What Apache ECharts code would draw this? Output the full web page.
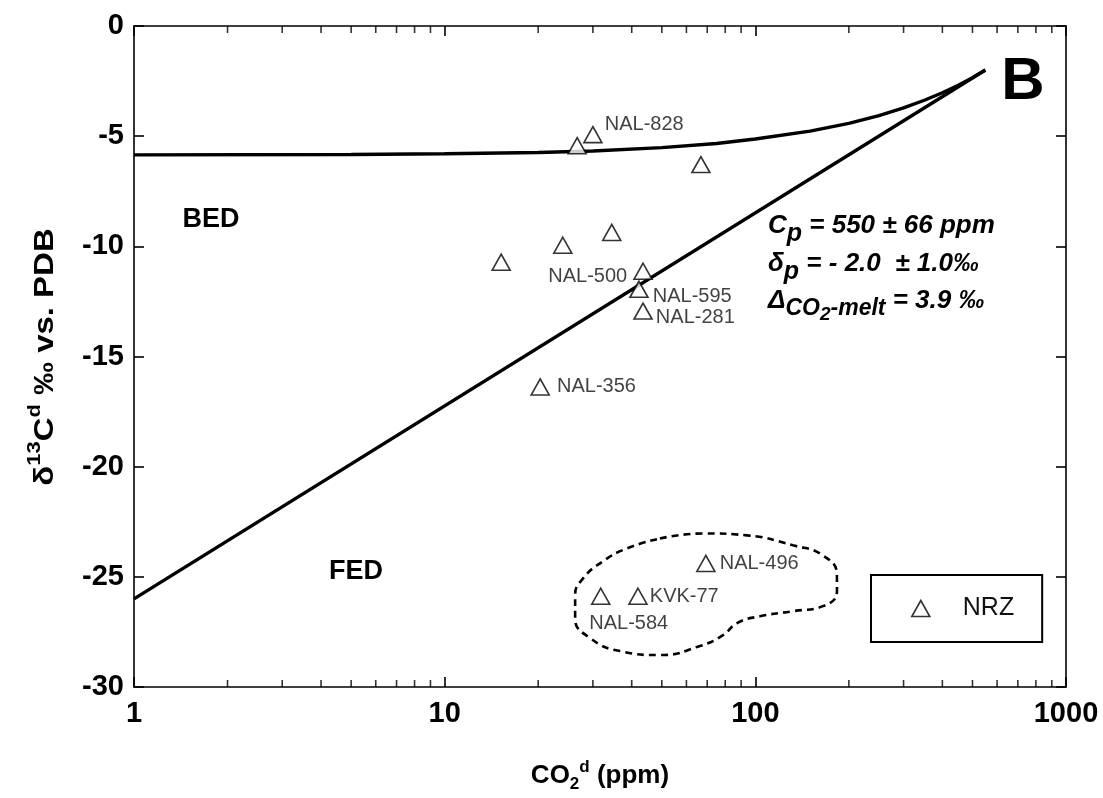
<!DOCTYPE html>
<html><head><meta charset="utf-8">
<script src="https://cdn.jsdelivr.net/npm/echarts@6/dist/echarts.min.js"></script>
<style>html,body{margin:0;padding:0;background:#fff}#c{width:1103px;height:798px}</style>
</head><body><div id="c"></div>
<script>
// ---- data ----
const xTickValues = [1, 10, 100, 1000];
const yTickValues = [0, -5, -10, -15, -20, -25, -30];
const minorX = [2,3,4,5,6,7,8,9,20,30,40,50,60,70,80,90,200,300,400,500,600,700,800,900];

const pointNames = ['', 'NAL-828', '', '', '', '', 'NAL-500', 'NAL-595', 'NAL-281', 'NAL-356', 'NAL-496', 'KVK-77', 'NAL-584'];
const pointCO2   = [26.7, 30.0, 66.8, 15.2, 24.0, 34.5, 43.5, 42.2, 43.5, 20.3, 69.3, 41.9, 31.8];
const pointDelta = [-5.43, -4.93, -6.29, -10.72, -9.95, -9.37, -11.13, -11.95, -12.94, -16.38, -24.39, -25.88, -25.88];

const batchCO2   = [1, 5, 10, 20, 30, 50, 75, 100, 150, 200, 250, 300, 350, 400, 450, 500, 550];
const batchDelta = [-5.85, -5.83, -5.8, -5.74, -5.67, -5.52, -5.33, -5.13, -4.77, -4.42, -4.07, -3.72, -3.37, -3.03, -2.69, -2.35, -2.0];

const rayleighCO2   = [1, 550];
const rayleighDelta = [-26.0, -2.0];

const blobCO2   = [49.3, 67.8, 94.0, 132.1, 165.1, 183.1, 183.1, 165.1, 132.1, 103.5, 87.3, 78.7, 66.3, 49.3, 36.7, 29.4, 26.3, 26.3, 27.9, 32.3, 38.6, 49.3];
const blobDelta = [-23.26, -23.03, -23.12, -23.57, -24.03, -24.93, -25.66, -26.33, -26.56, -26.79, -27.10, -27.65, -28.14, -28.55, -28.37, -27.78, -26.88, -25.84, -25.07, -24.30, -23.71, -23.26];

// ---- styling ----
const FONT = '"Liberation Sans", Arial, Helvetica, sans-serif';
const labelPlacement = {
  'NAL-828': { position: 'right', offset: [-3, -10] },
  'NAL-500': { position: 'left', offset: [-1, 5] },
  'NAL-595': { position: 'right', offset: [-1, 7] },
  'NAL-281': { position: 'right', offset: [-2, 6] },
  'NAL-356': { position: 'right', offset: [2, 0] },
  'NAL-496': { position: 'right', offset: [-1, 0] },
  'KVK-77':  { position: 'right', offset: [-3, 0] },
  'NAL-584': { position: 'bottom', offset: [28, 4] }
};

const zip = (a, b) => a.map((v, i) => [v, b[i]]);

const pointData = pointCO2.map((x, i) => {
  const nm = pointNames[i];
  const item = { name: nm, value: [x, pointDelta[i]] };
  item.label = nm ? Object.assign({ show: true, formatter: nm }, labelPlacement[nm]) : { show: false };
  return item;
});

const axisCommon = {
  axisLine: { show: true, onZero: false, lineStyle: { color: '#000', width: 1.6 } },
  axisTick: { show: true, inside: true, length: 10, lineStyle: { color: '#000', width: 1.6 } },
  splitLine: { show: false }
};

const bi = (size, extra) => Object.assign({ fontSize: size, fontWeight: 'bold', fontStyle: 'italic', fontFamily: FONT, color: '#000', fill: '#000', verticalAlign: 'top' }, extra);
const b = (size, extra) => Object.assign({ fontSize: size, fontWeight: 'bold', fontFamily: FONT, color: '#000', fill: '#000' }, extra);

const chart = echarts.init(document.getElementById('c'), null, { renderer: 'canvas' });

const option = {
  backgroundColor: '#fff',
  animation: false,
  grid: { left: 134, right: 37, top: 26, bottom: 109, containLabel: false },
  xAxis: [
    Object.assign({}, axisCommon, {
      type: 'log', logBase: 10, min: 1, max: 1000, position: 'bottom',
      axisLabel: { color: '#000', fontSize: 29, fontWeight: 'bold', fontFamily: FONT, margin: 12,
        formatter: v => (xTickValues.includes(Math.round(v)) ? String(Math.round(v)) : '') },
      name: '{m|CO}{sub|2}{sup|d}{m| (ppm)}',
      nameLocation: 'middle', nameGap: 76,
      nameTextStyle: {
        color: '#000', fontFamily: FONT, fontWeight: 'bold', fontSize: 26,
        rich: {
          m: b(26, { lineHeight: 30, verticalAlign: 'top' }),
          sub: b(17, { lineHeight: 20, padding: [13, 0, 0, 0], verticalAlign: 'top' }),
          sup: b(17, { lineHeight: 20, padding: [-4, 0, 0, 0], verticalAlign: 'top' })
        }
      }
    }),
    Object.assign({}, axisCommon, {
      type: 'log', logBase: 10, min: 1, max: 1000, position: 'top',
      axisLabel: { show: false }
    })
  ],
  yAxis: [
    Object.assign({}, axisCommon, {
      type: 'value', min: -30, max: 0, interval: 5, position: 'left',
      axisLabel: { color: '#000', fontSize: 29, fontWeight: 'bold', fontFamily: FONT, margin: 10,
        formatter: v => (yTickValues.includes(v) ? String(v) : '') }
    }),
    Object.assign({}, axisCommon, {
      type: 'value', min: -30, max: 0, interval: 5, position: 'right',
      axisLabel: { show: false }
    })
  ],
  legend: {
    data: ['NRZ'],
    left: 871, top: 575,
    orient: 'horizontal',
    padding: [21, 28, 21, 40],
    borderColor: '#000', borderWidth: 2, borderRadius: 0,
    itemWidth: 18, itemHeight: 16, itemGap: 0,
    icon: 'triangle',
    itemStyle: { color: '#fff', borderColor: '#000', borderWidth: 1.6 },
    textStyle: { color: '#111', fontSize: 25, fontFamily: FONT, padding: [0, 0, 0, 28] }
  },
  series: [
    {
      name: 'batch', type: 'line', xAxisIndex: 0, yAxisIndex: 0,
      data: zip(batchCO2, batchDelta), showSymbol: false, symbol: 'none', smooth: false,
      lineStyle: { color: '#000', width: 3.4 }, silent: true, z: 3
    },
    {
      name: 'rayleigh', type: 'line', xAxisIndex: 0, yAxisIndex: 0,
      data: zip(rayleighCO2, rayleighDelta), showSymbol: false, symbol: 'none',
      lineStyle: { color: '#000', width: 3.4 }, silent: true, z: 3
    },
    {
      name: 'group', type: 'line', xAxisIndex: 0, yAxisIndex: 0,
      data: zip(blobCO2, blobDelta), showSymbol: false, symbol: 'none', smooth: 0.5,
      lineStyle: { color: '#000', width: 2.6, type: [7, 5] }, silent: true, z: 2
    },
    {
      name: 'minorBottom', type: 'scatter', xAxisIndex: 0, yAxisIndex: 0,
      data: minorX.map(v => [v, -30]), symbol: 'rect', symbolSize: [1.6, 7], symbolOffset: [0, -3.5],
      itemStyle: { color: '#000' }, silent: true, z: 4
    },
    {
      name: 'minorTop', type: 'scatter', xAxisIndex: 0, yAxisIndex: 0,
      data: minorX.map(v => [v, 0]), symbol: 'rect', symbolSize: [1.6, 7], symbolOffset: [0, 3.5],
      itemStyle: { color: '#000' }, silent: true, z: 4
    },
    {
      name: 'NRZ', type: 'scatter', xAxisIndex: 0, yAxisIndex: 0,
      data: pointData, symbol: 'triangle', symbolSize: [18, 16],
      itemStyle: { color: '#fff', borderColor: '#000', borderWidth: 1.6 },
      label: { color: '#111', fontSize: 20, fontFamily: FONT, distance: 5 },
      z: 5
    }
  ],
  graphic: [
    { type: 'text', x: 43, y: 357, rotation: Math.PI / 2, scaleX: 1.22, scaleY: 1,
      style: {
        text: '{m|δ}{sup|13}{m|C}{sup|d}{m| ‰ vs. PDB}',
        align: 'center', verticalAlign: 'middle',
        rich: {
          m: b(27, { lineHeight: 32, verticalAlign: 'bottom' }),
          sup: b(18, { lineHeight: 20, padding: [0, 0, 15, 0], verticalAlign: 'bottom' })
        } } },
    { type: 'text', x: 211, y: 220, style: { text: 'BED', fill: '#000', fontSize: 27, fontWeight: 'bold', fontFamily: FONT, align: 'center', verticalAlign: 'middle' } },
    { type: 'text', x: 356, y: 572, style: { text: 'FED', fill: '#000', fontSize: 27, fontWeight: 'bold', fontFamily: FONT, align: 'center', verticalAlign: 'middle' } },
    { type: 'text', x: 1023, y: 82, style: { text: 'B', fill: '#000', fontSize: 60, fontWeight: 'bold', fontFamily: FONT, align: 'center', verticalAlign: 'middle' } },
    { type: 'text', x: 768, y: 213, style: {
        text: '{m|C}{s|p}{m| = 550 ± 66 ppm}',
        rich: { m: bi(26, { lineHeight: 30 }), s: bi(25, { lineHeight: 28, padding: [9, 0, 0, 0] }) } } },
    { type: 'text', x: 768, y: 251, style: {
        text: '{m|δ}{s|p}{m| = - 2.0  ± 1.0‰}',
        rich: { m: bi(26, { lineHeight: 30 }), s: bi(25, { lineHeight: 28, padding: [9, 0, 0, 0] }) } } },
    { type: 'text', x: 768, y: 288, style: {
        text: '{m|Δ}{s|CO}{t|2}{s|-melt}{m| = 3.9 ‰}',
        rich: { m: bi(26, { lineHeight: 30 }), s: bi(23, { lineHeight: 28, padding: [9, 0, 0, 0] }), t: bi(19, { lineHeight: 22, padding: [17, 0, 0, 0] }) } } }
  ]
};

chart.setOption(option);
</script>
</body></html>
